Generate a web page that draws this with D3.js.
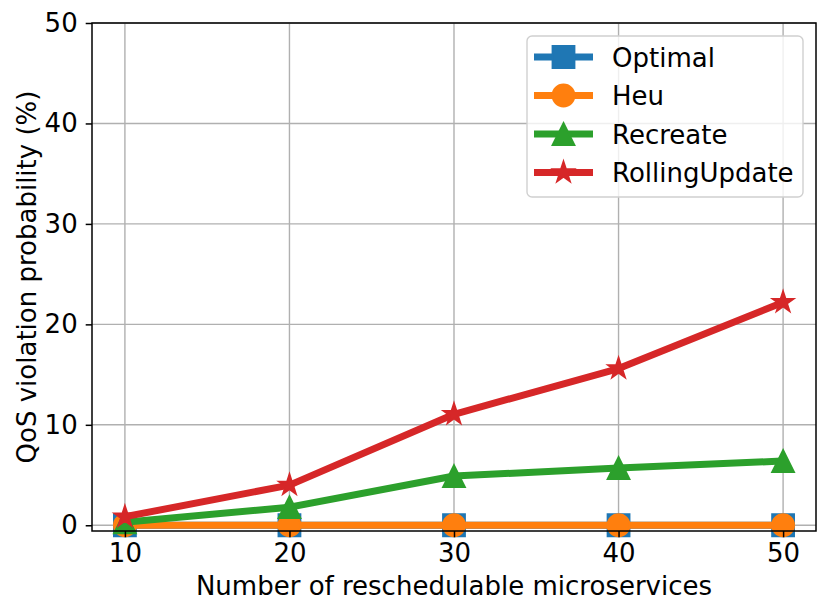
<!DOCTYPE html>
<html>
<head>
<meta charset="utf-8">
<script src="https://cdn.jsdelivr.net/npm/d3@7"></script>
<style>
  body { margin: 0; background: #fff; }
  text { font-family: "DejaVu Sans", sans-serif; }
</style>
</head>
<body>
<div id="chart-area"></div>
<script>
// data
var xValues = [10, 20, 30, 40, 50];
var optimal = [0, 0, 0, 0, 0];
var heu = [0, 0, 0, 0, 0];
var recreate = [0.3, 1.8, 4.9, 5.7, 6.4];
var rollingUpdate = [0.85, 4.0, 11.05, 15.6, 22.2];
var xTicks = [10, 20, 30, 40, 50];
var yTicks = [0, 10, 20, 30, 40, 50];

var series = [
  { name: "Optimal", values: optimal, color: "#1f77b4", marker: "square" },
  { name: "Heu", values: heu, color: "#ff7f0e", marker: "circle" },
  { name: "Recreate", values: recreate, color: "#2ca02c", marker: "triangle" },
  { name: "RollingUpdate", values: rollingUpdate, color: "#d62728", marker: "star" }
];

var W = 830, H = 615;
var margin = { left: 92, right: 14, top: 23, bottom: 84 };
var width = W - margin.left - margin.right,
    height = H - margin.top - margin.bottom;
var fs = "26px";

var svg = d3.select("#chart-area").append("svg")
    .attr("width", W)
    .attr("height", H);

var g = svg.append("g")
    .attr("transform", "translate(" + margin.left + "," + margin.top + ")");

var x = d3.scaleLinear().domain([8, 52]).range([0, width]);
var y = d3.scaleLinear().domain([-0.57, 50]).range([height, 0]);

var ms = 22; // marker size in px

// marker shapes, matplotlib style
var markerTypes = {
  square: { draw: function (c) { var h = ms / 2; c.rect(-h, -h, ms, ms); } },
  circle: { draw: function (c) { c.moveTo(ms / 2, 0); c.arc(0, 0, ms / 2, 0, 2 * Math.PI); } },
  triangle: { draw: function (c) {
    var h = ms / 2;
    c.moveTo(0, -h); c.lineTo(h, h); c.lineTo(-h, h); c.closePath();
  } },
  star: { draw: function (c) {
    var R = ms / 2, r = R * 0.381966;
    for (var i = 0; i < 10; i++) {
      var a = -Math.PI / 2 + i * Math.PI / 5;
      var rr = i % 2 === 0 ? R : r;
      if (i === 0) c.moveTo(rr * Math.cos(a), rr * Math.sin(a));
      else c.lineTo(rr * Math.cos(a), rr * Math.sin(a));
    }
    c.closePath();
  } }
};

// grid
g.append("g").selectAll("line.vg")
  .data(xTicks).enter().append("line")
    .attr("x1", function (d) { return x(d); })
    .attr("x2", function (d) { return x(d); })
    .attr("y1", 0).attr("y2", height)
    .attr("stroke", "#b0b0b0").attr("stroke-width", 1.4);
g.append("g").selectAll("line.hg")
  .data(yTicks).enter().append("line")
    .attr("y1", function (d) { return y(d); })
    .attr("y2", function (d) { return y(d); })
    .attr("x1", 0).attr("x2", width)
    .attr("stroke", "#b0b0b0").attr("stroke-width", 1.4);

// lines + markers
var line = d3.line()
  .x(function (d, i) { return x(xValues[i]); })
  .y(function (d) { return y(d); });

series.forEach(function (s) {
  g.append("path")
    .datum(s.values)
    .attr("d", line)
    .attr("fill", "none")
    .attr("stroke", s.color)
    .attr("stroke-width", 7)
    .attr("stroke-linejoin", "round")
    .attr("stroke-linecap", "square");
  g.selectAll(null)
    .data(s.values).enter().append("path")
      .attr("d", d3.symbol().type(markerTypes[s.marker]))
      .attr("transform", function (d, i) { return "translate(" + x(xValues[i]) + "," + y(d) + ")"; })
      .attr("fill", s.color)
      .attr("stroke", s.color)
      .attr("stroke-width", 1.8)
      .attr("stroke-linejoin", "miter");
});

// axes
var xAxis = g.append("g")
  .attr("transform", "translate(0," + height + ")")
  .call(d3.axisBottom(x).tickValues(xTicks).tickSize(6.3).tickPadding(6).tickSizeOuter(0));
var yAxis = g.append("g")
  .call(d3.axisLeft(y).tickValues(yTicks).tickSize(6.3).tickPadding(8).tickSizeOuter(0));
[xAxis, yAxis].forEach(function (a) {
  a.select(".domain").remove();
  a.selectAll(".tick line").attr("stroke", "#000").attr("stroke-width", 1.5);
  a.selectAll(".tick text").attr("font-size", fs).attr("fill", "#000")
    .attr("font-family", "DejaVu Sans, sans-serif");
});

// frame
g.append("rect")
  .attr("x", 0).attr("y", 0).attr("width", width).attr("height", height)
  .attr("fill", "none").attr("stroke", "#000").attr("stroke-width", 1.5);

// axis labels
svg.append("text")
  .attr("x", margin.left + width / 2)
  .attr("y", 595)
  .attr("text-anchor", "middle")
  .attr("font-size", fs)
  .text("Number of reschedulable microservices");
svg.append("text")
  .attr("transform", "translate(35.5," + (margin.top + height / 2) + ") rotate(-90)")
  .attr("text-anchor", "middle")
  .attr("font-size", fs)
  .text("QoS violation probability (%)");

// legend
var lg = svg.append("g").attr("transform", "translate(527,36)");
lg.append("rect")
  .attr("width", 276).attr("height", 161).attr("rx", 5)
  .attr("fill", "#fff").attr("fill-opacity", 0.8)
  .attr("stroke", "#d0d0d0").attr("stroke-width", 1.4);
series.forEach(function (s, i) {
  var yy = 21 + i * 38.5;
  lg.append("line")
    .attr("x1", 7).attr("x2", 66).attr("y1", yy).attr("y2", yy)
    .attr("stroke", s.color).attr("stroke-width", 7);
  lg.append("path")
    .attr("d", d3.symbol().type(markerTypes[s.marker]))
    .attr("transform", "translate(36.5," + yy + ")")
    .attr("fill", s.color).attr("stroke", s.color).attr("stroke-width", 1.8);
  lg.append("text")
    .attr("x", 85).attr("y", yy + 9.5)
    .attr("font-size", fs)
    .text(s.name);
});
</script>
</body>
</html>
